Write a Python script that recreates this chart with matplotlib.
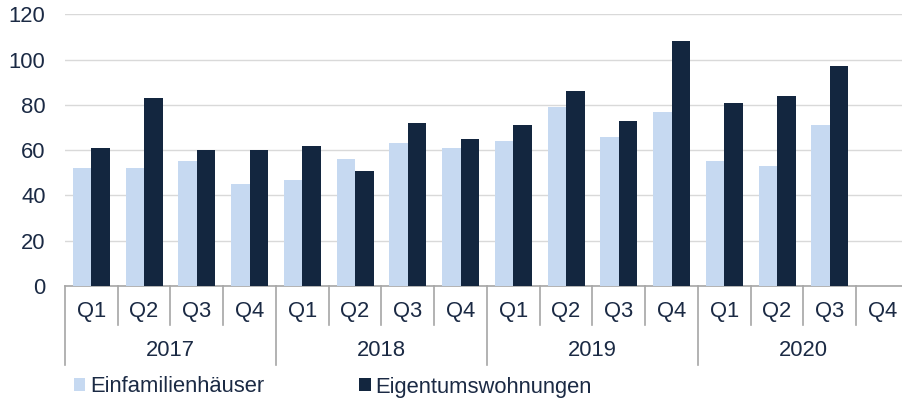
import matplotlib
matplotlib.use("Agg")
import matplotlib.pyplot as plt
import numpy as np

years = ["2017", "2018", "2019", "2020"]
quarters = ["Q1", "Q2", "Q3", "Q4"]
series_names = ["Einfamilienhäuser", "Eigentumswohnungen"]
einfamilienhaeuser = [52, 52, 55, 45, 47, 56, 63, 61, 64, 79, 66, 77, 55, 53, 71, np.nan]
eigentumswohnungen = [61, 83, 60, 60, 62, 51, 72, 65, 71, 86, 73, 108, 81, 84, 97, np.nan]
yticks = [0, 20, 40, 60, 80, 100, 120]

light = "#C6D9F1"
dark = "#13263F"
text_c = "#1B2A44"
grid_c = "#D9D9D9"
axis_c = "#A6A6A6"
fs = 15.8

plt.rcParams['font.family'] = ['Liberation Sans', 'DejaVu Sans']

W, H = 903, 405
fig = plt.figure(figsize=(W / 100, H / 100), dpi=100)
ax = fig.add_axes([65 / W, (H - 286) / H, (909 - 65) / W, (286 - 14.3) / H])

n = len(einfamilienhaeuser)
x = np.arange(n)
bw = 0.35
ax.bar(x - bw / 2, einfamilienhaeuser, bw, color=light, label=series_names[0], zorder=3)
ax.bar(x + bw / 2, eigentumswohnungen, bw, color=dark, label=series_names[1], zorder=3)

ax.set_xlim(-0.5, n - 0.5)
ax.set_ylim(0, 120)
ax.set_yticks(yticks)
ax.yaxis.grid(True, color=grid_c, linewidth=1)
ax.set_axisbelow(True)
for s in ["left", "right", "top"]:
    ax.spines[s].set_visible(False)
ax.spines["bottom"].set_color(axis_c)
ax.spines["bottom"].set_linewidth(1.2)
ax.tick_params(axis="y", length=0, pad=14, labelsize=fs, labelcolor=text_c)
ax.set_xticks([])

tr = ax.get_xaxis_transform()
ax_h_px = 286 - 14.3
q_bottom = -(325 - 286) / ax_h_px
y_bottom = -(365 - 286) / ax_h_px
q_label_y = -(311.5 - 286) / ax_h_px
y_label_y = -(350 - 286) / ax_h_px

for i in range(n + 1):
    bnd = i - 0.5
    yb = y_bottom if i % 4 == 0 else q_bottom
    ax.plot([bnd, bnd], [0, yb], transform=tr, color=axis_c, lw=1.2, clip_on=False)
for i in range(n):
    ax.text(i, q_label_y, quarters[i % 4], transform=tr, ha="center", va="center",
            fontsize=fs, color=text_c)
for j, yr in enumerate(years):
    ax.text(j * 4 + 1.5, y_label_y, yr, transform=tr, ha="center", va="center",
            fontsize=fs, color=text_c)

leg = fig.legend(loc="center left", bbox_to_anchor=(74 / W, (H - 387) / H), ncol=2,
                 frameon=False, fontsize=fs, handlelength=0.52, handleheight=0.55,
                 handletextpad=0.2, columnspacing=4.35, borderaxespad=0, borderpad=0)
for t in leg.get_texts():
    t.set_color(text_c)

fig.savefig("out.png", dpi=100)
